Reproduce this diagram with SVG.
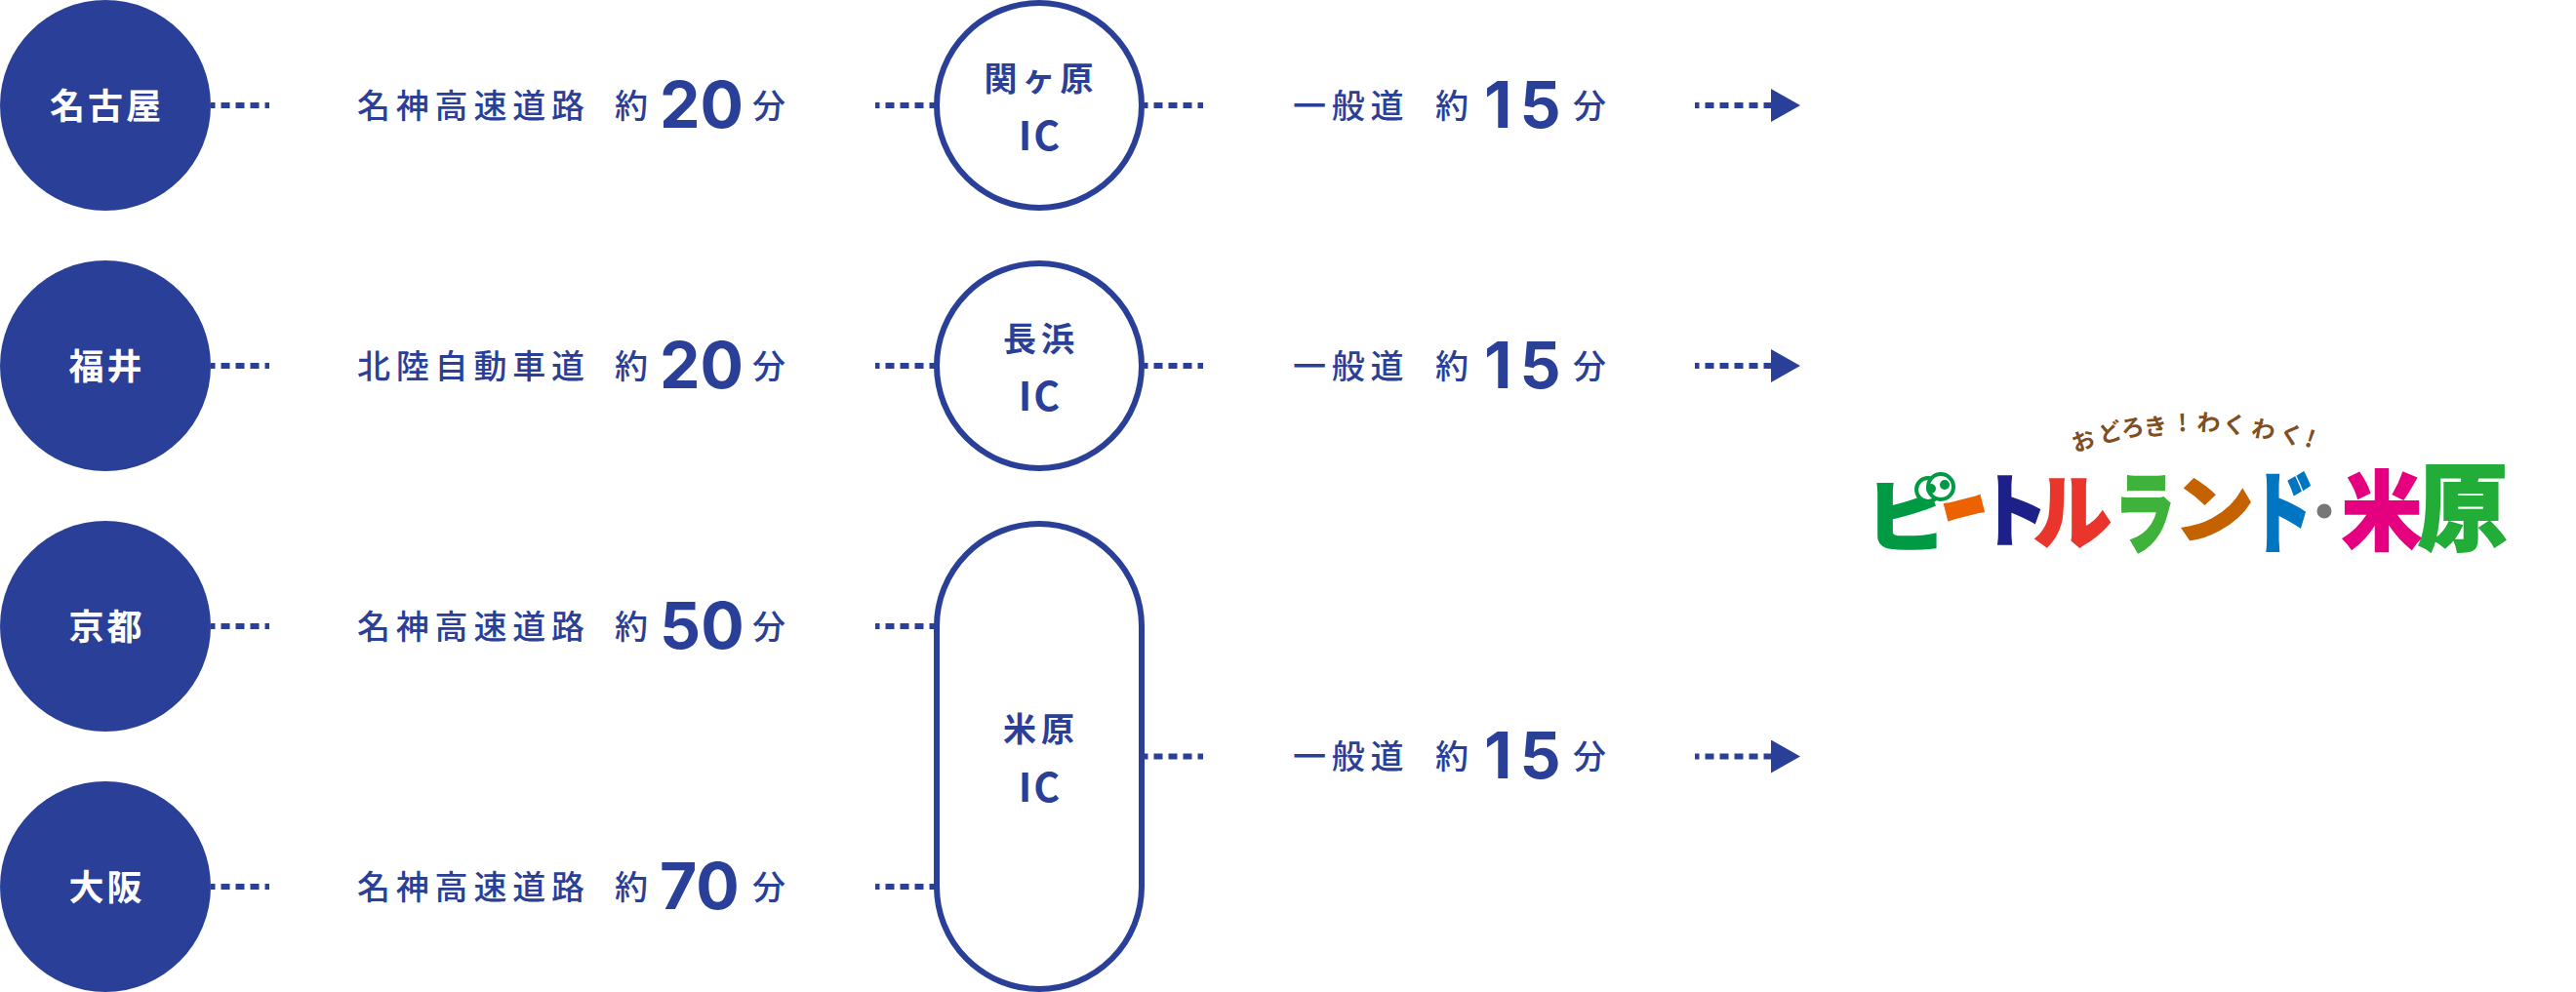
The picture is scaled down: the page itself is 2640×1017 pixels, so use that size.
<svg xmlns="http://www.w3.org/2000/svg" width="2640" height="1017" viewBox="0 0 2640 1017">
<style>
text{font-family:"Noto Sans CJK JP","Noto Sans",sans-serif}
.city{fill:#2a4098}
.citytxt{fill:#fff;font-size:36px;font-weight:700;letter-spacing:3px;text-anchor:middle}
.ic{fill:#fff;stroke:#2a4098;stroke-width:6}
.ictxt{fill:#2a4098;font-size:34px;font-weight:700;letter-spacing:5px;text-anchor:middle}
.icl{fill:#2a4098;font-size:41px;font-weight:700;letter-spacing:2px;text-anchor:middle}
.lab{fill:#2a4098;font-size:34px;font-weight:500;letter-spacing:5.8px}
.num{fill:#2a4098;font-family:Inter,"Liberation Sans",sans-serif;font-size:66px;font-weight:700}
.d{stroke:#2a4098;stroke-width:6;stroke-dasharray:9 6;stroke-dashoffset:4.5;fill:none}
.lg{font-weight:900;font-size:100px;text-anchor:middle;stroke-width:2px;paint-order:stroke;stroke-linejoin:miter}
.tag{fill:#7f4f21;font-size:24px;font-weight:700;text-anchor:middle}
</style>
<defs><marker id="ah" markerUnits="userSpaceOnUse" markerWidth="30" markerHeight="34" refX="0" refY="17" orient="auto"><path d="M0 0L30 17L0 34Z" fill="#2a4098"/></marker></defs>
<g id="connectors">
<path class="d" d="M216 108H276"/><path class="d" d="M216 375H276"/><path class="d" d="M216 642H276"/><path class="d" d="M216 909H276"/>
<path class="d" d="M897 108H960"/><path class="d" d="M897 375H960"/><path class="d" d="M897 642H960"/><path class="d" d="M897 909H960"/>
<path class="d" d="M1172 108H1233"/><path class="d" d="M1172 375H1233"/><path class="d" d="M1172 775.500H1233"/>
<path class="d" d="M1737 108H1815" marker-end="url(#ah)"/><path class="d" d="M1737 375H1815" marker-end="url(#ah)"/><path class="d" d="M1737 775.500H1815" marker-end="url(#ah)"/>
</g>
<g id="node-nagoya"><circle class="city" cx="108" cy="108" r="108"/><text class="citytxt" x="109.500" y="122">名古屋</text></g>
<g id="node-fukui"><circle class="city" cx="108" cy="375" r="108"/><text class="citytxt" x="109.500" y="389">福井</text></g>
<g id="node-kyoto"><circle class="city" cx="108" cy="642" r="108"/><text class="citytxt" x="109.500" y="656">京都</text></g>
<g id="node-osaka"><circle class="city" cx="108" cy="909" r="108"/><text class="citytxt" x="109.500" y="923">大阪</text></g>
<g id="label-1"><text class="lab" x="366" y="121">名神高速道路</text><text class="lab" x="630" y="121">約</text><text class="num" x="676" y="131">20</text><text class="lab" x="771" y="121">分</text></g>
<g id="label-2"><text class="lab" x="366" y="388">北陸自動車道</text><text class="lab" x="630" y="388">約</text><text class="num" x="676" y="398">20</text><text class="lab" x="771" y="388">分</text></g>
<g id="label-3"><text class="lab" x="366" y="655">名神高速道路</text><text class="lab" x="630" y="655">約</text><text class="num" x="676" y="665">50</text><text class="lab" x="771" y="655">分</text></g>
<g id="label-4"><text class="lab" x="366" y="922">名神高速道路</text><text class="lab" x="630" y="922">約</text><text class="num" x="676" y="932">70</text><text class="lab" x="771" y="922">分</text></g>
<g id="node-sekigahara"><circle class="ic" cx="1065" cy="108" r="105"/><text class="ictxt" x="1067" y="93">関ヶ原</text><text class="icl" x="1066" y="154">IC</text></g>
<g id="node-nagahama"><circle class="ic" cx="1065" cy="375" r="105"/><text class="ictxt" x="1067" y="360">長浜</text><text class="icl" x="1066" y="421">IC</text></g>
<g id="node-maibara"><rect class="ic" x="960" y="537" width="210" height="477" rx="105" ry="105"/><text class="ictxt" x="1067" y="760">米原</text><text class="icl" x="1066" y="822">IC</text></g>
<g id="label-5"><text class="lab" x="1325" y="121">一般道</text><text class="lab" x="1471" y="121">約</text><text class="num" x="1521" y="131">1<tspan dx="8">5</tspan></text><text class="lab" x="1612" y="121">分</text></g>
<g id="label-6"><text class="lab" x="1325" y="388">一般道</text><text class="lab" x="1471" y="388">約</text><text class="num" x="1521" y="398">1<tspan dx="8">5</tspan></text><text class="lab" x="1612" y="388">分</text></g>
<g id="label-7"><text class="lab" x="1325" y="788">一般道</text><text class="lab" x="1471" y="788">約</text><text class="num" x="1521" y="798">1<tspan dx="8">5</tspan></text><text class="lab" x="1612" y="788">分</text></g>
<g id="logo">
<g id="logo-tagline">
<text class="tag" transform="translate(2138 460) rotate(-20)">お</text>
<text class="tag" transform="translate(2165 452) rotate(-16)">ど</text>
<text class="tag" transform="translate(2187 447) rotate(-10)">ろ</text>
<text class="tag" transform="translate(2210 446) rotate(-6)">き</text>
<text class="tag" transform="translate(2237 442) rotate(-2)">!</text>
<text class="tag" transform="translate(2263 442) rotate(4)">わ</text>
<text class="tag" transform="translate(2289 444) rotate(8)">く</text>
<text class="tag" transform="translate(2318 449) rotate(12)">わ</text>
<text class="tag" transform="translate(2346 454) rotate(16)">く</text>
<text class="tag" transform="translate(2365 458) rotate(18)">!</text>
</g>
<g id="logo-title">
<text class="lg" fill="#009944" stroke="#009944" transform="translate(1955 528) scale(.86 .8)" y="38">ビ</text>
<circle cx="1976" cy="502" r="12" fill="#fff" stroke="#009944" stroke-width="4"/><circle cx="1989" cy="499" r="13" fill="#fff" stroke="#009944" stroke-width="4"/>
<circle cx="1979" cy="501" r="5" fill="#009944"/><circle cx="1993" cy="497" r="5" fill="#009944"/>
<text class="lg" fill="#ec6100" stroke="#ec6100" transform="translate(2013 521) rotate(-14) scale(.46 .9)" y="38">ー</text>
<text class="lg" fill="#1d2088" stroke="#1d2088" transform="translate(2063 523) scale(.72 .82)" y="38">ト</text>
<text class="lg" fill="#e9352b" stroke="#e9352b" transform="translate(2124 524) scale(.8 .84)" y="38">ル</text>
<text class="lg" fill="#3eb23b" stroke="#3eb23b" transform="translate(2198 525) scale(.62 .92)" y="38">ラ</text>
<text class="lg" fill="#c46200" stroke="#c46200" transform="translate(2269 521) scale(.82 .76)" y="38">ン</text>
<text class="lg" fill="#0075c2" stroke="#0075c2" transform="translate(2339 524) scale(.66 .92)" y="38">ド</text>
<text class="lg" fill="#77777a" stroke="#77777a" transform="translate(2382 524) scale(.5 .5)" y="38">・</text>
<text class="lg" fill="#e4007f" stroke="#e4007f" transform="translate(2441 523) scale(.82 .88)" y="38">米</text>
<text class="lg" fill="#22ac38" stroke="#22ac38" transform="translate(2524 520) scale(.92 .96)" y="38">原</text>
</g>
</g>
</svg>
